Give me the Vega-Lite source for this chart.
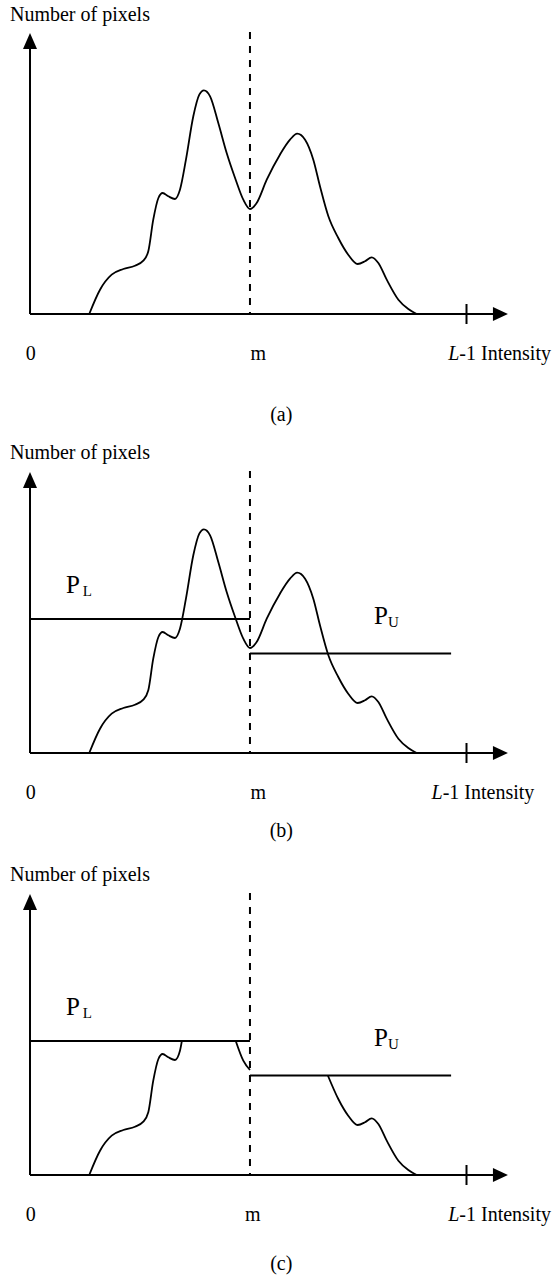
{
  "$schema": "https://vega.github.io/schema/vega-lite/v6.json",
  "padding": 0,
  "spacing": 0,
  "bounds": "flush",
  "background": "white",
  "config": {
    "view": {"stroke": null},
    "concat": {"spacing": 0},
    "text": {"font": "Liberation Serif", "fontSize": 20, "color": "black", "baseline": "alphabetic"}
  },
  "datasets": {
    "hist": [
      {"intensity": 34.6, "count": 0},
      {"intensity": 40.9, "count": 24.3},
      {"intensity": 47.7, "count": 39.3},
      {"intensity": 54.5, "count": 45},
      {"intensity": 61.3, "count": 48.3},
      {"intensity": 66.2, "count": 53.3},
      {"intensity": 69.1, "count": 62.7},
      {"intensity": 72.0, "count": 94.3},
      {"intensity": 75.0, "count": 116},
      {"intensity": 77.5, "count": 121},
      {"intensity": 80.8, "count": 117.7},
      {"intensity": 84.7, "count": 115},
      {"intensity": 87.6, "count": 124.3},
      {"intensity": 91.1, "count": 154.3},
      {"intensity": 95.4, "count": 197.7},
      {"intensity": 98.9, "count": 219.3},
      {"intensity": 101.6, "count": 223.7},
      {"intensity": 105.2, "count": 217.7},
      {"intensity": 110.0, "count": 191},
      {"intensity": 114.9, "count": 161},
      {"intensity": 119.8, "count": 136},
      {"intensity": 124.6, "count": 114.3},
      {"intensity": 128.5, "count": 105},
      {"intensity": 132.4, "count": 111},
      {"intensity": 138.3, "count": 134.3},
      {"intensity": 146.0, "count": 159.3},
      {"intensity": 151.9, "count": 174.3},
      {"intensity": 156.1, "count": 180.3},
      {"intensity": 160.7, "count": 174.3},
      {"intensity": 165.5, "count": 154.3},
      {"intensity": 169.4, "count": 127.7},
      {"intensity": 174.3, "count": 97.7},
      {"intensity": 180.1, "count": 76},
      {"intensity": 185.9, "count": 59.3},
      {"intensity": 191.4, "count": 50},
      {"intensity": 195.7, "count": 52.7},
      {"intensity": 199.6, "count": 56.7},
      {"intensity": 203.5, "count": 51},
      {"intensity": 208.4, "count": 34.3},
      {"intensity": 215.2, "count": 14.3},
      {"intensity": 221.0, "count": 5},
      {"intensity": 225.9, "count": 0}
    ],
    "clipped": [
      {"segment": 1, "intensity": 34.6, "count": 0},
      {"segment": 1, "intensity": 40.9, "count": 24.3},
      {"segment": 1, "intensity": 47.7, "count": 39.3},
      {"segment": 1, "intensity": 54.5, "count": 45},
      {"segment": 1, "intensity": 61.3, "count": 48.3},
      {"segment": 1, "intensity": 66.2, "count": 53.3},
      {"segment": 1, "intensity": 69.1, "count": 62.7},
      {"segment": 1, "intensity": 72.0, "count": 94.3},
      {"segment": 1, "intensity": 75.0, "count": 116},
      {"segment": 1, "intensity": 77.5, "count": 121},
      {"segment": 1, "intensity": 80.8, "count": 117.7},
      {"segment": 1, "intensity": 84.7, "count": 115},
      {"segment": 1, "intensity": 87.6, "count": 124.3},
      {"segment": 1, "intensity": 88.7, "count": 134},
      {"segment": 2, "intensity": 120.2, "count": 134},
      {"segment": 2, "intensity": 124.6, "count": 114.3},
      {"segment": 2, "intensity": 128.5, "count": 105},
      {"segment": 3, "intensity": 174.0, "count": 99.5},
      {"segment": 3, "intensity": 180.1, "count": 76},
      {"segment": 3, "intensity": 185.9, "count": 59.3},
      {"segment": 3, "intensity": 191.4, "count": 50},
      {"segment": 3, "intensity": 195.7, "count": 52.7},
      {"segment": 3, "intensity": 199.6, "count": 56.7},
      {"segment": 3, "intensity": 203.5, "count": 51},
      {"segment": 3, "intensity": 208.4, "count": 34.3},
      {"segment": 3, "intensity": 215.2, "count": 14.3},
      {"segment": 3, "intensity": 221.0, "count": 5},
      {"segment": 3, "intensity": 225.9, "count": 0}
    ],
    "axes": [
      {"part": "y-axis", "intensity": 0, "intensity2": 0, "count": 0, "count2": 270},
      {"part": "x-axis", "intensity": 0, "intensity2": 272, "count": 0, "count2": 0},
      {"part": "L-1 tick", "intensity": 255, "intensity2": 255, "count": -10, "count2": 10}
    ],
    "arrows": [
      {"direction": "up", "intensity": 0, "count": 281},
      {"direction": "right", "intensity": 279.2, "count": 0}
    ],
    "threshold": [
      {"name": "m", "intensity": 128.5, "count": 282, "count2": 0}
    ],
    "means": [
      {"part": "P_L", "intensity": 0, "intensity2": 128.5, "count": 134},
      {"part": "P_U", "intensity": 128.5, "intensity2": 246, "count": 99.5}
    ],
    "labels": [
      {"panel": "a", "kind": "plain", "label": "Number of pixels", "intensity": -11.7, "count": 293.5},
      {"panel": "a", "kind": "centered", "label": "0", "intensity": 0.5, "count": -46},
      {"panel": "a", "kind": "plain", "label": "m", "intensity": 128.8, "count": -46},
      {"panel": "a", "kind": "plain", "label": "-1 Intensity", "intensity": 250.8, "count": -46},
      {"panel": "a", "kind": "italic", "label": "L", "intensity": 250.8, "count": -46},
      {"panel": "a", "kind": "centered", "label": "(a)", "intensity": 146.8, "count": -107},
      {"panel": "b", "kind": "plain", "label": "Number of pixels", "intensity": -11.7, "count": 293.7},
      {"panel": "b", "kind": "centered", "label": "0", "intensity": 0.5, "count": -46},
      {"panel": "b", "kind": "plain", "label": "m", "intensity": 128.8, "count": -46},
      {"panel": "b", "kind": "plain", "label": "-1 Intensity", "intensity": 241.1, "count": -46},
      {"panel": "b", "kind": "italic", "label": "L", "intensity": 241.1, "count": -46},
      {"panel": "b", "kind": "centered", "label": "(b)", "intensity": 146.8, "count": -83.5},
      {"panel": "b", "kind": "symbol", "label": "P", "intensity": 21.0, "count": 160},
      {"panel": "b", "kind": "subscript", "label": "L", "intensity": 30.8, "count": 156.6},
      {"panel": "b", "kind": "symbol", "label": "P", "intensity": 201.0, "count": 129.3},
      {"panel": "b", "kind": "subscript", "label": "U", "intensity": 209.1, "count": 126},
      {"panel": "c", "kind": "plain", "label": "Number of pixels", "intensity": -11.7, "count": 294},
      {"panel": "c", "kind": "centered", "label": "0", "intensity": 0.5, "count": -46},
      {"panel": "c", "kind": "plain", "label": "m", "intensity": 125.6, "count": -46},
      {"panel": "c", "kind": "plain", "label": "-1 Intensity", "intensity": 250.8, "count": -46},
      {"panel": "c", "kind": "italic", "label": "L", "intensity": 250.8, "count": -46},
      {"panel": "c", "kind": "centered", "label": "(c)", "intensity": 146.8, "count": -94.5},
      {"panel": "c", "kind": "symbol", "label": "P", "intensity": 21.0, "count": 160},
      {"panel": "c", "kind": "subscript", "label": "L", "intensity": 30.8, "count": 156.6},
      {"panel": "c", "kind": "symbol", "label": "P", "intensity": 201.0, "count": 129.3},
      {"panel": "c", "kind": "subscript", "label": "U", "intensity": 209.1, "count": 126}
    ]
  },
  "vconcat": [
    {
      "width": 553,
      "height": 439,
      "encoding": {
        "x": {"field": "intensity", "type": "quantitative", "scale": {"domain": [-17.53, 305.53], "nice": false, "zero": false}, "axis": null},
        "y": {"field": "count", "type": "quantitative", "scale": {"domain": [-125, 314], "nice": false, "zero": false}, "axis": null}
      },
      "layer": [
        {"data": {"name": "axes"}, "mark": {"type": "rule", "strokeWidth": 2, "color": "black"}, "encoding": {"x2": {"field": "intensity2"}, "y2": {"field": "count2"}}},
        {"data": {"name": "threshold"}, "mark": {"type": "rule", "strokeWidth": 2, "strokeDash": [7, 7], "color": "black"}, "encoding": {"y2": {"field": "count2"}}},
        {"data": {"name": "hist"}, "mark": {"type": "line", "interpolate": "monotone", "strokeWidth": 1.8, "color": "black"}, "encoding": {}},
        {"data": {"name": "arrows"}, "transform": [{"filter": "datum.direction === 'up'"}], "mark": {"type": "point", "shape": "M0,0L-0.875,2L0.875,2Z", "size": 256, "filled": true, "color": "black", "opacity": 1, "strokeWidth": 0}},
        {"data": {"name": "arrows"}, "transform": [{"filter": "datum.direction === 'right'"}], "mark": {"type": "point", "shape": "M0,0L-2,-0.93L-2,0.93Z", "size": 225, "filled": true, "color": "black", "opacity": 1, "strokeWidth": 0}},
        {"data": {"name": "labels"}, "transform": [{"filter": "datum.panel === 'a' && datum.kind === 'plain'"}], "mark": {"type": "text", "align": "left"}, "encoding": {"text": {"field": "label"}}},
        {"data": {"name": "labels"}, "transform": [{"filter": "datum.panel === 'a' && datum.kind === 'centered'"}], "mark": {"type": "text", "align": "center"}, "encoding": {"text": {"field": "label"}}},
        {"data": {"name": "labels"}, "transform": [{"filter": "datum.panel === 'a' && datum.kind === 'italic'"}], "mark": {"type": "text", "align": "right", "fontStyle": "italic"}, "encoding": {"text": {"field": "label"}}}
      ]
    },
    {
      "width": 553,
      "height": 422,
      "encoding": {
        "x": {"field": "intensity", "type": "quantitative", "scale": {"domain": [-17.53, 305.53], "nice": false, "zero": false}, "axis": null},
        "y": {"field": "count", "type": "quantitative", "scale": {"domain": [-108, 314], "nice": false, "zero": false}, "axis": null}
      },
      "layer": [
        {"data": {"name": "axes"}, "mark": {"type": "rule", "strokeWidth": 2, "color": "black"}, "encoding": {"x2": {"field": "intensity2"}, "y2": {"field": "count2"}}},
        {"data": {"name": "threshold"}, "mark": {"type": "rule", "strokeWidth": 2, "strokeDash": [7, 7], "color": "black"}, "encoding": {"y2": {"field": "count2"}}},
        {"data": {"name": "means"}, "mark": {"type": "rule", "strokeWidth": 1.8, "color": "black"}, "encoding": {"x2": {"field": "intensity2"}}},
        {"data": {"name": "hist"}, "mark": {"type": "line", "interpolate": "monotone", "strokeWidth": 1.8, "color": "black"}, "encoding": {}},
        {"data": {"name": "arrows"}, "transform": [{"filter": "datum.direction === 'up'"}], "mark": {"type": "point", "shape": "M0,0L-0.875,2L0.875,2Z", "size": 256, "filled": true, "color": "black", "opacity": 1, "strokeWidth": 0}},
        {"data": {"name": "arrows"}, "transform": [{"filter": "datum.direction === 'right'"}], "mark": {"type": "point", "shape": "M0,0L-2,-0.93L-2,0.93Z", "size": 225, "filled": true, "color": "black", "opacity": 1, "strokeWidth": 0}},
        {"data": {"name": "labels"}, "transform": [{"filter": "datum.panel === 'b' && datum.kind === 'plain'"}], "mark": {"type": "text", "align": "left"}, "encoding": {"text": {"field": "label"}}},
        {"data": {"name": "labels"}, "transform": [{"filter": "datum.panel === 'b' && datum.kind === 'centered'"}], "mark": {"type": "text", "align": "center"}, "encoding": {"text": {"field": "label"}}},
        {"data": {"name": "labels"}, "transform": [{"filter": "datum.panel === 'b' && datum.kind === 'italic'"}], "mark": {"type": "text", "align": "right", "fontStyle": "italic"}, "encoding": {"text": {"field": "label"}}},
        {"data": {"name": "labels"}, "transform": [{"filter": "datum.panel === 'b' && datum.kind === 'symbol'"}], "mark": {"type": "text", "align": "left", "fontSize": 25}, "encoding": {"text": {"field": "label"}}},
        {"data": {"name": "labels"}, "transform": [{"filter": "datum.panel === 'b' && datum.kind === 'subscript'"}], "mark": {"type": "text", "align": "left", "fontSize": 15}, "encoding": {"text": {"field": "label"}}}
      ]
    },
    {
      "width": 553,
      "height": 416,
      "encoding": {
        "x": {"field": "intensity", "type": "quantitative", "scale": {"domain": [-17.53, 305.53], "nice": false, "zero": false}, "axis": null},
        "y": {"field": "count", "type": "quantitative", "scale": {"domain": [-102, 314], "nice": false, "zero": false}, "axis": null}
      },
      "layer": [
        {"data": {"name": "axes"}, "mark": {"type": "rule", "strokeWidth": 2, "color": "black"}, "encoding": {"x2": {"field": "intensity2"}, "y2": {"field": "count2"}}},
        {"data": {"name": "threshold"}, "mark": {"type": "rule", "strokeWidth": 2, "strokeDash": [7, 7], "color": "black"}, "encoding": {"y2": {"field": "count2"}}},
        {"data": {"name": "means"}, "mark": {"type": "rule", "strokeWidth": 1.8, "color": "black"}, "encoding": {"x2": {"field": "intensity2"}}},
        {"data": {"name": "clipped"}, "mark": {"type": "line", "interpolate": "monotone", "strokeWidth": 1.8, "color": "black"}, "encoding": {"detail": {"field": "segment", "type": "nominal"}}},
        {"data": {"name": "arrows"}, "transform": [{"filter": "datum.direction === 'up'"}], "mark": {"type": "point", "shape": "M0,0L-0.875,2L0.875,2Z", "size": 256, "filled": true, "color": "black", "opacity": 1, "strokeWidth": 0}},
        {"data": {"name": "arrows"}, "transform": [{"filter": "datum.direction === 'right'"}], "mark": {"type": "point", "shape": "M0,0L-2,-0.93L-2,0.93Z", "size": 225, "filled": true, "color": "black", "opacity": 1, "strokeWidth": 0}},
        {"data": {"name": "labels"}, "transform": [{"filter": "datum.panel === 'c' && datum.kind === 'plain'"}], "mark": {"type": "text", "align": "left"}, "encoding": {"text": {"field": "label"}}},
        {"data": {"name": "labels"}, "transform": [{"filter": "datum.panel === 'c' && datum.kind === 'centered'"}], "mark": {"type": "text", "align": "center"}, "encoding": {"text": {"field": "label"}}},
        {"data": {"name": "labels"}, "transform": [{"filter": "datum.panel === 'c' && datum.kind === 'italic'"}], "mark": {"type": "text", "align": "right", "fontStyle": "italic"}, "encoding": {"text": {"field": "label"}}},
        {"data": {"name": "labels"}, "transform": [{"filter": "datum.panel === 'c' && datum.kind === 'symbol'"}], "mark": {"type": "text", "align": "left", "fontSize": 25}, "encoding": {"text": {"field": "label"}}},
        {"data": {"name": "labels"}, "transform": [{"filter": "datum.panel === 'c' && datum.kind === 'subscript'"}], "mark": {"type": "text", "align": "left", "fontSize": 15}, "encoding": {"text": {"field": "label"}}}
      ]
    }
  ]
}
